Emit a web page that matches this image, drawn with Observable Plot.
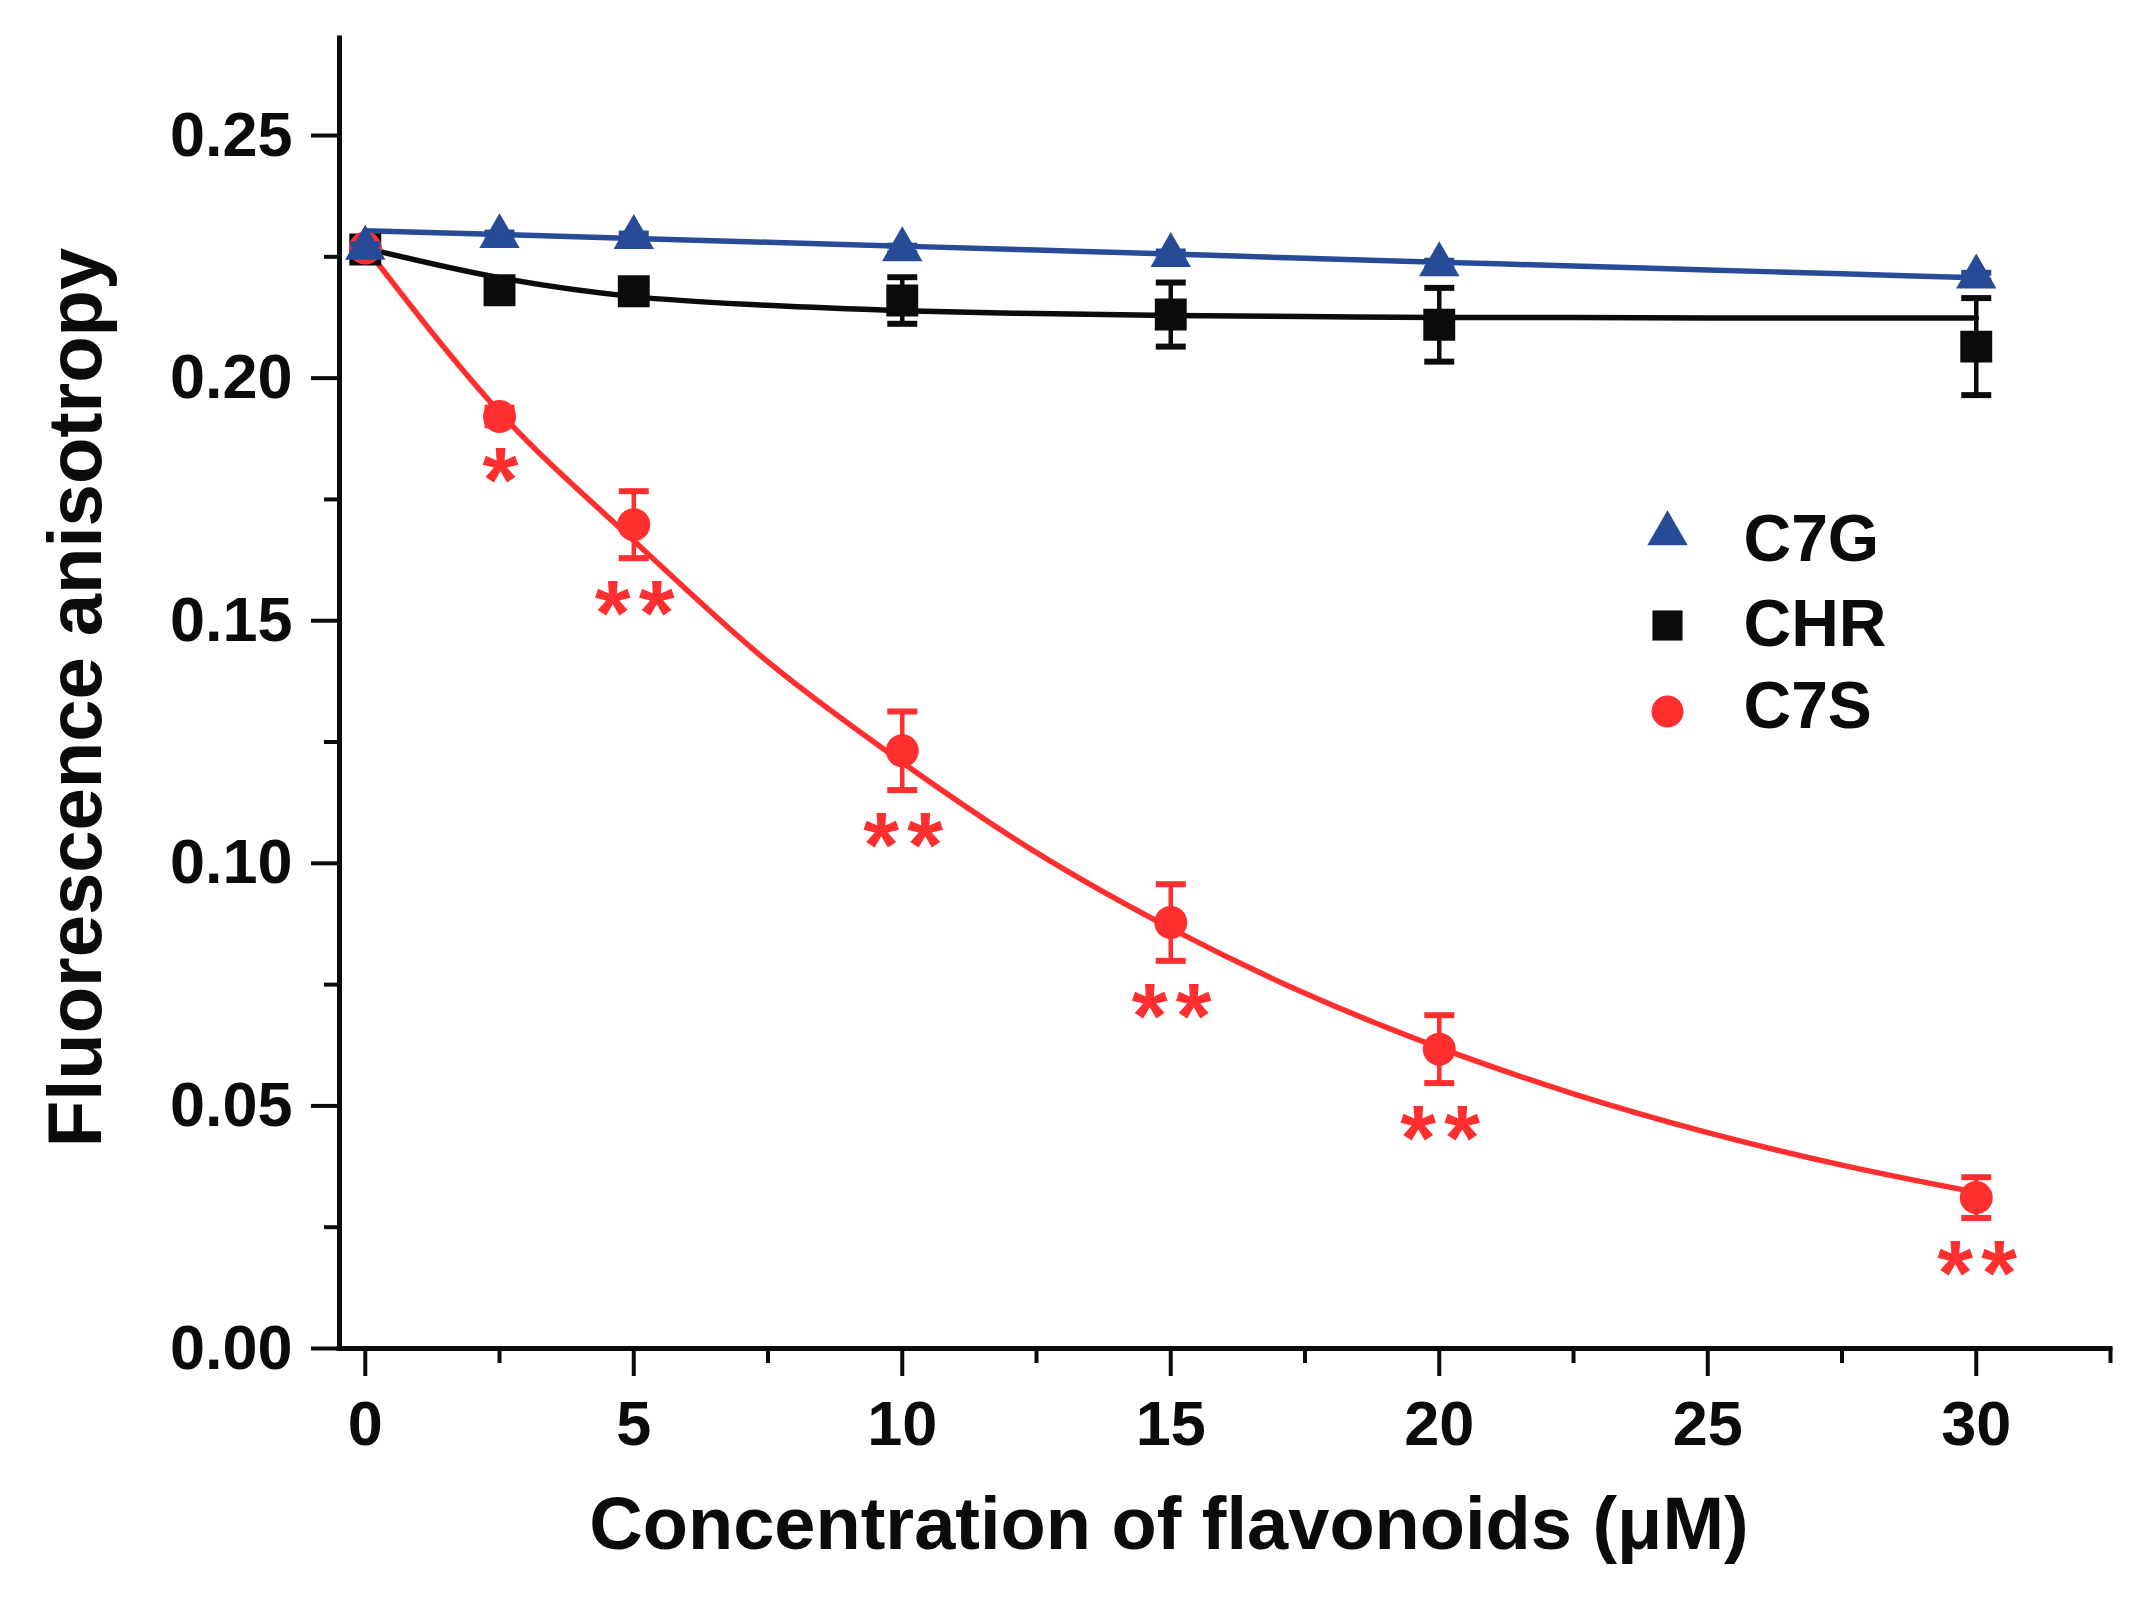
<!DOCTYPE html>
<html>
<head>
<meta charset="utf-8">
<script src="https://cdn.jsdelivr.net/npm/d3@7"></script>
<script src="https://cdn.jsdelivr.net/npm/@observablehq/plot@0.6"></script>
<style>
  html, body { margin: 0; padding: 0; background: #fff; }
</style>
</head>
<body>
<div id="chart"></div>
<script>
// ---- data ----
const conc = [0, 2.5, 5, 10, 15, 20, 30];
const c7gMean = [0.2268, 0.2292, 0.2290, 0.2265, 0.2253, 0.2234, 0.2209];
const c7gSd   = [0.0008, 0.0008, 0.0008, 0.0008, 0.0008, 0.0008, 0.0008];
const chrMean = [0.2265, 0.2181, 0.2179, 0.2160, 0.2131, 0.2110, 0.2065];
const chrSd   = [0.0008, 0.0025, 0.0025, 0.0048, 0.0066, 0.0076, 0.0100];
const c7sMean = [0.2268, 0.1921, 0.1698, 0.1232, 0.0878, 0.0617, 0.0311];
const c7sSd   = [0.0008, 0.0018, 0.0069, 0.0081, 0.0079, 0.0070, 0.0042];

// fitted curves
const fitX   = [0, 2.5, 5, 7.5, 10, 12.5, 15, 17.5, 20, 22.5, 25, 27.5, 30];
const c7gFit = [0.2304, 0.2296, 0.2288, 0.2280, 0.2272, 0.2264, 0.2256, 0.2247, 0.2239, 0.2231, 0.2223, 0.2215, 0.2207];
const chrFit = [0.2268, 0.2207, 0.2168, 0.2150, 0.2139, 0.2133, 0.2129, 0.2127, 0.2125, 0.2125, 0.2124, 0.2124, 0.2124];
const c7sFit = [0.2270, 0.1930, 0.1665, 0.1415, 0.1208, 0.1022, 0.0866, 0.0732, 0.0620, 0.0525, 0.0445, 0.0378, 0.0322];

// significance marks for C7S
const sigX    = [2.5, 5, 10, 15, 20, 30];
const sigText = ["*", "**", "**", "**", "**", "**"];

const seriesNames = ["C7G", "CHR", "C7S"];
const xMajorTicks = [0, 5, 10, 15, 20, 25, 30];
const xMinorTicks = [2.5, 7.5, 12.5, 17.5, 22.5, 27.5, 32.5];
const yMajorTicks = [0, 0.05, 0.10, 0.15, 0.20, 0.25];
const yMinorTicks = [0.025, 0.075, 0.125, 0.175, 0.225];
const xDomain = [-0.48, 32.5];
const yDomain = [0, 0.27];

const xLabel = "Concentration of flavonoids (\u03BCM)";
const yLabel = "Fluorescence anisotropy";

// ---- styling ----
const BLUE = "#274b97", BLACK = "#0b0b0b", RED = "#ff2f2f";
const FONT = "Liberation Sans, Arial, Helvetica, sans-serif";

const pts = (means, sds) => conc.map((x, i) => ({x, y: means[i], lo: means[i] - sds[i], hi: means[i] + sds[i]}));
const fit = (vals) => fitX.map((x, i) => ({x, y: vals[i]}));

const seriesDefs = [
  {name: "CHR", data: pts(chrMean, chrSd), fit: fit(chrFit), color: BLACK, symbol: "square", r: 18},
  {name: "C7S", data: pts(c7sMean, c7sSd), fit: fit(c7sFit), color: RED, symbol: "circle", r: 16.5},
  {name: "C7G", data: pts(c7gMean, c7gSd), fit: fit(c7gFit), color: BLUE, symbol: "triangle", r: 15}
];

const capSymbol = {
  draw(context, size) {
    const r = Math.sqrt(size / Math.PI);
    context.moveTo(-r, 0);
    context.lineTo(r, 0);
  }
};

// one entry per star glyph
const c7sPts = pts(c7sMean, c7sSd);
const starData = sigX.flatMap((x, i) => {
  const p = c7sPts.find(d => d.x === x);
  const stars = sigText[i].split("");
  return stars.map((s, k) => ({x, y: p.lo, s, k, n: stars.length}));
});

const marks = [];

// fitted lines
for (const s of seriesDefs) {
  marks.push(Plot.line(s.fit, {x: "x", y: "y", curve: "monotone-x", stroke: s.color, strokeWidth: 5.5}));
}
// error bars + markers
for (const s of seriesDefs) {
  marks.push(Plot.ruleX(s.data, {x: "x", y1: "lo", y2: "hi", stroke: s.color, strokeWidth: 4.5}));
  marks.push(Plot.dot(s.data, {x: "x", y: "lo", symbol: capSymbol, r: 15, stroke: s.color, strokeWidth: 6, fill: "none"}));
  marks.push(Plot.dot(s.data, {x: "x", y: "hi", symbol: capSymbol, r: 15, stroke: s.color, strokeWidth: 6, fill: "none"}));
  marks.push(Plot.dot(s.data, {x: "x", y: "y", symbol: s.symbol, r: s.r, fill: s.color, stroke: "none"}));
}

// significance asterisks
const starStyle = {x: "x", y: "y", text: "s", fill: RED, fontSize: 92, fontWeight: "bold", fontFamily: FONT,
  textAnchor: "middle", lineAnchor: "bottom", dy: 87};
marks.push(Plot.text(starData, {...starStyle, filter: d => d.n === 1, dx: 1}));
marks.push(Plot.text(starData, {...starStyle, filter: d => d.n === 2 && d.k === 0, dx: -21}));
marks.push(Plot.text(starData, {...starStyle, filter: d => d.n === 2 && d.k === 1, dx: 23}));

// axes lines
marks.push(Plot.ruleY([yDomain[0]], {stroke: BLACK, strokeWidth: 5, strokeLinecap: "square"}));
marks.push(Plot.ruleX([xDomain[0]], {stroke: BLACK, strokeWidth: 5, strokeLinecap: "square"}));

// axes ticks & labels
marks.push(Plot.axisX(xMajorTicks, {
  tickSize: 28, tickPadding: 24, strokeWidth: 4, stroke: BLACK, fill: BLACK,
  fontSize: 63, fontWeight: "bold", fontFamily: FONT, tickFormat: d => String(d), label: null
}));
marks.push(Plot.axisX(xMinorTicks, {tickSize: 15, strokeWidth: 4, stroke: BLACK, text: null, label: null}));
marks.push(Plot.axisY(yMajorTicks, {
  tickSize: 28, tickPadding: 19, strokeWidth: 4, stroke: BLACK, fill: BLACK,
  fontSize: 63, fontWeight: "bold", fontFamily: FONT, tickFormat: d => d.toFixed(2), label: null
}));
marks.push(Plot.axisY(yMinorTicks, {tickSize: 15, strokeWidth: 4, stroke: BLACK, text: null, label: null}));

// axis titles
marks.push(Plot.text([xLabel], {
  frameAnchor: "bottom", dx: -56, dy: 200, lineAnchor: "bottom", textAnchor: "middle",
  fontSize: 74, fontWeight: "bold", fontFamily: FONT, fill: BLACK
}));
marks.push(Plot.text([yLabel], {
  frameAnchor: "left", rotate: -90, dx: -239, dy: 4, lineAnchor: "bottom", textAnchor: "middle",
  fontSize: 76, fontWeight: "bold", fontFamily: FONT, fill: BLACK
}));

// legend (inside the frame, upper right)
const legendStyle = {
  C7G: {color: BLUE, symbol: "triangle", r: 15},
  CHR: {color: BLACK, symbol: "square", r: 17},
  C7S: {color: RED, symbol: "circle", r: 16}
};
const legendRowDy = [495, 587, 673];
const legendTextDy = [522, 607, 689];
seriesNames.forEach((name, i) => {
  const st = legendStyle[name];
  marks.push(Plot.dot([name], {frameAnchor: "top-left", dx: 1328, dy: legendRowDy[i], symbol: st.symbol, r: st.r, fill: st.color, stroke: "none"}));
  marks.push(Plot.text([name], {
    frameAnchor: "top-left", dx: 1404, dy: legendTextDy[i], text: d => d, textAnchor: "start", lineAnchor: "bottom",
    fontSize: 66, fontWeight: "bold", fontFamily: FONT, fill: BLACK
  }));
});

const chart = Plot.plot({
  width: 2137,
  height: 1603,
  marginLeft: 339,
  marginRight: 27,
  marginTop: 38,
  marginBottom: 255,
  x: {domain: xDomain, axis: null},
  y: {domain: yDomain, axis: null},
  style: {background: "#fff", fontFamily: FONT},
  marks
});
document.getElementById("chart").appendChild(chart);
</script>
</body>
</html>
